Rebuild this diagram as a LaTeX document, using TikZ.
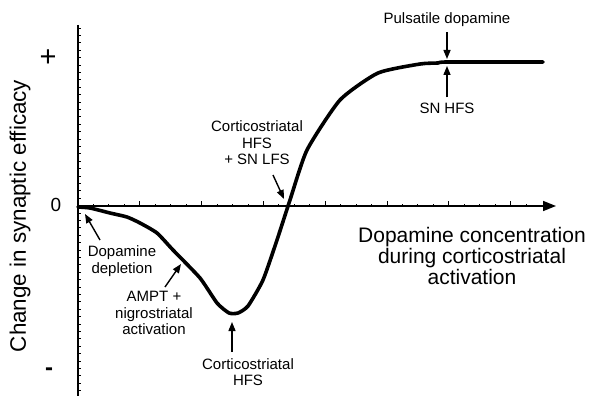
\documentclass[tikz,border=0pt]{standalone}
\usepackage{fontspec}
\setmainfont{Liberation Sans}
\usetikzlibrary{arrows.meta}

\begin{document}
\begin{tikzpicture}[x=1pt, y=-1pt,
    % Стиль для осей
    axis/.style={line width=1.6pt},
    % Стиль для кривой: толстая линия
    curve/.style={line width=3.6pt, line join=round, line cap=round},
    % Стиль для стрелок-указателей
    pointer/.style={line width=1.4pt, -{Triangle[length=9pt, width=7pt]}},
    % Стиль для подписей
    lab/.style={font=\fontsize{15}{16.5}\selectfont, align=center, inner sep=0pt},
    biglab/.style={font=\fontsize{21}{21}\selectfont, align=center, inner sep=0pt}
]
    \useasboundingbox (0,0) rectangle (592,396);

    % --- Оси ---
    \coordinate (O) at (78,206);
    \coordinate (ytop) at (78,25);
    \coordinate (ybot) at (78,396);
    \coordinate (xend) at (556,206);
    \draw[axis] (ytop) -- (ybot);
    \draw[axis, -{Triangle[length=13pt, width=10pt]}] (O) -- (xend);

    % --- Засечки ---
    \foreach \k in {1,...,29} {
        \pgfmathsetmacro{\h}{mod(\k,4)==0 ? 5 : 2.5}
        \draw[line width=0.9pt] (78+15.45*\k,206) -- ++(0,-\h);
    }
    \foreach \y in {28,35.4,...,396}
        \draw[line width=0.9pt] (78,\y) -- ++(2.5,0);

    % --- Подписи осей ---
    \node[font=\fontsize{29}{29}\selectfont] (plus) at (48,58) {+};
    \node[font=\fontsize{19}{19}\selectfont] (zero) at (56,205) {0};
    \node[font=\fontsize{24}{24}\selectfont\bfseries] (minus) at (49,372) {-};
    \node[font=\fontsize{22.4}{22.4}\selectfont, rotate=90] (ylab) at (20,216)
        {Change in synaptic efficacy};
    \node[biglab] (xlab) at (472,256)
        {Dopamine concentration\\during corticostriatal\\activation};

    % --- Кривая ---
    \draw[curve] plot[smooth, tension=0.35] coordinates {
        (78,207) (90,208) (110,213) (127,217) (140,223) (157,233) (173,250)
        (200,278) (217,303) (229,313) (238,313) (248,306) (263,280) (277,240)
        (290,200) (307,150) (340,100) (378,73) (420,64) (438,63) (447,62) (543,62)};

    % --- Точки на кривой ---
    \coordinate (pDepl) at (85,214);
    \coordinate (pAmpt) at (181,264);
    \coordinate (pMin) at (232,322);
    \coordinate (pZero) at (284,199);
    \coordinate (pTop) at (447,59);
    \coordinate (pTopB) at (447,66);

    % --- Подписи и стрелки ---
    \node[lab] (depl) at (122,261) {Dopamine\\depletion};
    \node[lab] (ampt) at (154,313) {AMPT +\\nigrostriatal\\activation};
    \node[lab] (hfs) at (248,372) {Corticostriatal\\HFS};
    \node[lab] (lfs) at (257,143) {Corticostriatal\\HFS\\+ SN LFS};
    \node[lab] (puls) at (447,20) {Pulsatile dopamine};
    \node[lab] (snhfs) at (447,108) {SN HFS};

    \draw[pointer] (100,240) -- (pDepl);
    \draw[pointer] (165,287) -- (pAmpt);
    \draw[pointer] (hfs.north -| pMin) ++(0,-6) -- (pMin);
    \draw[pointer] (273,175) -- (pZero);
    \draw[pointer] (puls.south) ++(0,5) -- (pTop);
    \draw[pointer] (snhfs.north) ++(0,-5) -- (pTopB);
\end{tikzpicture}
\end{document}
